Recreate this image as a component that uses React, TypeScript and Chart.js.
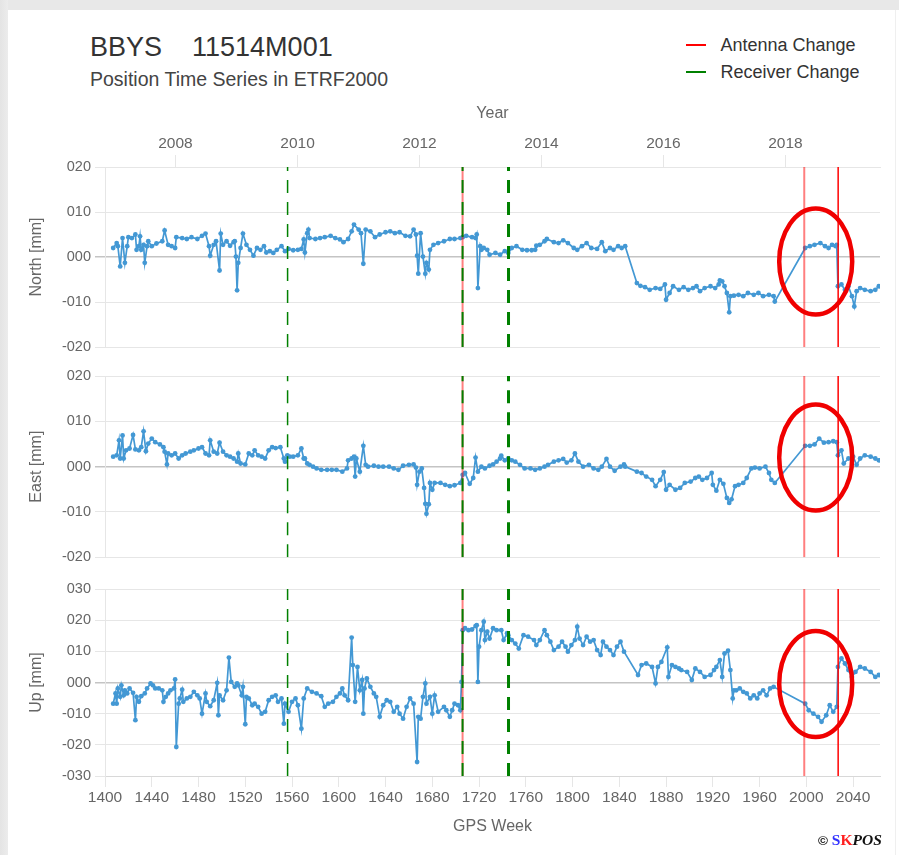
import React, { useEffect, useRef } from 'react';
import { Chart, registerables } from 'chart.js';

Chart.register(...registerables);

// ---------- data ----------
const weekMin = 1400;
const weekMax = 2063;
const gpsWeekTicks = [1400, 1440, 1480, 1520, 1560, 1600, 1640, 1680, 1720, 1760, 1800, 1840, 1880, 1920, 1960, 2000, 2040];
const yearLabels = ['2008', '2010', '2012', '2014', '2016', '2018'];
const yearWeeks = [1460.3, 1564.7, 1669.0, 1773.4, 1877.7, 1982.1];

const antennaWeeks = [1705.9, 1998.2, 2027.2];
const receiverWeeks = [1556.2, 1705.9, 1745.2];

const northTicks = [-20, -10, 0, 10, 20];
const eastTicks = [-20, -10, 0, 10, 20];
const upTicks = [-30, -20, -10, 0, 10, 20, 30];

const highlightWeek = 2008;
const northHighlight = -1.0;
const eastHighlight = 2.0;
const upHighlight = -0.5;

const northWeeks = [
  1407, 1410, 1411, 1413, 1415, 1417, 1419, 1420, 1423, 1426,
  1427, 1429, 1430, 1431, 1433, 1434, 1436, 1437, 1440, 1444,
  1449, 1451, 1454, 1457, 1460, 1461, 1466, 1470, 1474, 1479,
  1483, 1486, 1489, 1490, 1493, 1495, 1498, 1499, 1501, 1504,
  1507, 1510, 1511, 1512, 1513, 1514, 1516, 1518, 1521, 1524,
  1527, 1530, 1533, 1536, 1538, 1541, 1544, 1547, 1551, 1554,
  1557, 1561, 1565, 1568, 1570, 1571, 1573, 1574, 1575, 1580,
  1584, 1588, 1593, 1597, 1601, 1604, 1608, 1611, 1613, 1617,
  1619, 1621, 1623, 1627, 1631, 1635, 1640, 1644, 1648, 1652,
  1657, 1661, 1664, 1666, 1667, 1668, 1670, 1672, 1674, 1675,
  1677, 1678, 1681, 1685, 1690, 1695,
  1699, 1704, 1706, 1709, 1714, 1717, 1718, 1719, 1721, 1722,
  1724, 1727, 1729, 1734, 1738, 1742, 1745, 1748, 1752, 1757,
  1761, 1765, 1768, 1769, 1772, 1776, 1778, 1784, 1788, 1792,
  1796, 1801, 1804, 1808, 1812, 1816, 1821, 1825, 1828, 1832,
  1835, 1839, 1842, 1845, 1855, 1858, 1862, 1866, 1871, 1875,
  1879, 1880, 1883, 1886, 1891, 1895, 1899, 1903, 1906, 1909,
  1913, 1918, 1922, 1925, 1926, 1928, 1930, 1932, 1934, 1935,
  1938, 1942, 1946, 1950, 1955, 1959, 1963, 1968, 1972, 1973,
  1999, 2003, 2007, 2012, 2016, 2019, 2022, 2025, 2026, 2027,
  2030, 2033, 2036, 2039, 2041, 2043, 2046, 2050, 2055, 2059, 2062,
];
const northValues = [
  2.0, 3.1, 2.4, -2.1, 4.2, -1.3, 2.4, 4.4, 4.2, 5.0,
  1.6, 2.4, 4.6, 1.6, 2.7, -1.3, 2.4, 3.5, 2.4, 3.0,
  3.5, 5.9, 2.7, 2.4, 2.0, 4.4, 4.2, 4.0, 4.4, 4.0,
  4.7, 5.2, 2.4, 0.3, 2.7, 3.5, -3.0, 5.2, 2.7, 3.5,
  2.5, 3.3, 3.5, 0.1, -7.4, -1.3, 2.0, 5.2, 2.7, 1.6,
  0.3, 2.0, 1.6, 2.4, 1.0, 1.3, 0.9, 1.6, 2.4, 1.3,
  1.8, 1.5, 1.6, 1.8, 3.9, 1.0, 5.3, 6.1, 4.2, 4.0,
  4.2, 4.4, 4.7, 4.2, 3.9, 3.3, 4.0, 5.7, 7.2, 6.1,
  5.3, -1.5, 6.1, 5.7, 4.4, 5.0, 5.5, 5.7, 5.3, 5.5,
  4.7, 4.6, 6.1, 5.0, 0.3, -3.7, 5.3, 0.1, -3.7, -1.3,
  -2.8, 1.6, 2.7, 3.1, 3.5, 4.0,
  4.0, 4.2, 4.4, 4.7, 4.4, 4.2, 5.0, -6.9, 2.4, 1.6,
  2.0, 1.6, 0.5, 0.9, 0.5, 1.3, 0.9, 2.0, 2.4, 1.6,
  1.5, 1.5, 1.6, 2.5, 2.7, 3.5, 4.0, 3.3, 3.1, 3.7,
  3.1, 2.0, 1.6, 2.4, 3.1, 2.0, 1.8, 3.3, 1.3, 2.0,
  1.6, 2.4, 2.0, 2.4, -5.8, -6.4, -6.7, -7.3, -6.9, -7.1,
  -6.1, -9.5, -8.0, -6.5, -7.3, -6.7, -7.3, -6.9, -6.5, -7.6,
  -6.9, -6.5, -6.9, -6.1, -5.2, -5.4, -6.5, -8.0, -12.3, -8.7,
  -8.6, -8.4, -8.7, -8.0, -8.4, -8.0, -8.7, -8.4, -8.7, -9.9,
  2.0, 2.4, 2.7, 3.1, 2.4, 2.0, 2.7, 2.4, 2.7, -6.5,
  -6.1, -7.3, -6.5, -8.7, -11.0, -7.6, -6.9, -7.3, -7.6, -7.3, -6.5,
];

const eastWeeks = [
  1407, 1410, 1412, 1413, 1415, 1416, 1418, 1421, 1424, 1426,
  1429, 1431, 1433, 1435, 1437, 1440, 1443, 1447, 1450, 1451,
  1453, 1454, 1457, 1460, 1463, 1466, 1469, 1473, 1476, 1480,
  1483, 1486, 1489, 1490, 1493, 1496, 1498, 1501, 1504, 1507,
  1510, 1513, 1514, 1516, 1520, 1523, 1526, 1528, 1531, 1534,
  1537, 1540, 1543, 1546, 1550, 1553, 1554, 1556, 1558, 1561,
  1565, 1568, 1570, 1571, 1573, 1575, 1578, 1581, 1585, 1590,
  1594, 1598, 1603, 1607, 1608, 1611, 1613, 1614, 1615, 1618,
  1621, 1623, 1625, 1630, 1634, 1638, 1643, 1647, 1651, 1655,
  1660, 1664, 1666, 1667, 1669, 1671, 1673, 1674, 1675, 1677,
  1678, 1680, 1682, 1687, 1691, 1695,
  1699, 1704, 1706, 1708, 1712, 1715, 1717, 1719, 1722, 1725,
  1729, 1732, 1735, 1738, 1739, 1742, 1745, 1748, 1751, 1755,
  1759, 1764, 1768, 1772, 1776, 1779, 1784, 1788, 1792, 1795,
  1799, 1802, 1805, 1809, 1814, 1818, 1822, 1825, 1829, 1832,
  1836, 1841, 1844, 1845, 1855, 1859, 1863, 1868, 1871, 1875,
  1878, 1880, 1883, 1888, 1892, 1896, 1901, 1905, 1908, 1911,
  1915, 1919, 1920, 1923, 1926, 1929, 1932, 1934, 1936, 1939,
  1942, 1946, 1949, 1953, 1956, 1960, 1965, 1968, 1970, 1973,
  1999, 2003, 2007, 2011, 2015, 2019, 2023, 2026, 2027, 2030,
  2032, 2036, 2040, 2043, 2046, 2050, 2055, 2059, 2062,
];
const eastValues = [
  2.2, 2.5, 5.8, 1.8, 6.9, 1.8, 3.6, 4.0, 7.0, 3.8,
  3.6, 4.3, 7.8, 3.4, 5.1, 6.2, 5.4, 4.9, 4.3, 3.3,
  0.5, 2.9, 2.5, 2.9, 1.8, 2.5, 2.9, 3.3, 3.6, 4.0,
  4.3, 2.9, 2.5, 5.8, 3.3, 2.9, 5.3, 3.3, 2.5, 2.2,
  1.8, 1.1, 2.9, 0.7, 0.5, 2.9, 2.5, 3.6, 2.5, 2.2,
  1.8, 3.6, 4.3, 4.1, 4.3, 1.8, 1.1, 2.5, 2.2, 2.2,
  2.5, 4.0, 1.8, 1.8, 0.7, 0.4, 0.0, -0.4, -0.7, -0.7,
  -0.7, -0.7, -1.1, -0.4, 1.4, 1.8, 2.2, -2.2, 1.8, -1.1,
  4.6, 0.4, 0.0, 0.2, 0.0, 0.0, 0.0, -0.4, -0.7, 0.2,
  0.4, 0.5, -0.2, -4.0, -1.1, -0.4, -4.7, -8.2, -10.4, -8.3,
  -3.6, -5.1, -3.6, -3.6, -4.0, -4.3,
  -4.1, -3.6, -1.8, -1.4, -3.8, -2.5, 2.0, -1.1, 0.0, -0.4,
  0.2, 0.5, 1.1, 1.8, 2.4, 1.4, 1.8, 1.4, 1.1, 0.4,
  -0.4, -0.4, -0.7, -0.4, 0.0, 0.4, 1.1, 1.4, 1.7, 0.9,
  1.4, 2.9, 1.1, 0.0, 0.4, -0.4, -0.7, 0.0, 1.7, 0.0,
  -0.9, 0.0, 0.5, 0.0, -1.1, -1.4, -2.2, -2.9, -4.3, -2.9,
  -1.2, -5.1, -4.0, -5.1, -4.7, -3.6, -3.3, -2.5, -2.2, -2.9,
  -2.5, -1.4, -4.0, -5.3, -2.9, -3.8, -6.9, -8.0, -7.2, -4.3,
  -4.0, -3.6, -2.5, -0.4, -0.2, -0.4, 0.0, -1.4, -2.9, -3.6,
  4.6, 4.6, 4.9, 6.2, 5.3, 5.4, 5.6, 5.4, 2.5, 3.6,
  0.7, 1.8, 2.2, 0.4, 1.8, 2.5, 2.2, 1.8, 1.4,
];

const upWeeks = [
  1407, 1409, 1410, 1411, 1413, 1414, 1416, 1417, 1419, 1421,
  1424, 1426, 1427, 1429, 1431, 1434, 1436, 1439, 1441, 1443,
  1446, 1449, 1450, 1452, 1454, 1456, 1459, 1460, 1461, 1463,
  1464, 1466, 1467, 1470, 1473, 1476, 1479, 1481, 1483, 1486,
  1487, 1490, 1493, 1496, 1497, 1498, 1501, 1504, 1506, 1508,
  1511, 1513, 1514, 1517, 1518, 1520, 1521, 1523, 1526, 1528,
  1531, 1534, 1537, 1540, 1543, 1546, 1548, 1551, 1553, 1554,
  1557, 1560, 1563, 1565, 1568, 1570, 1573, 1577, 1581, 1585,
  1588, 1591, 1595, 1598, 1601, 1603, 1605, 1608, 1611, 1612,
  1614, 1616, 1618, 1620, 1621, 1622, 1624, 1627, 1630, 1632,
  1635, 1638, 1641, 1644, 1647, 1650, 1652, 1655, 1658, 1661,
  1664, 1667, 1668, 1670, 1672, 1674, 1675, 1678, 1680, 1682,
  1685, 1690, 1692, 1695, 1697, 1699, 1702, 1704, 1705,
  1706, 1708, 1711, 1714, 1717, 1718, 1719, 1720, 1722, 1724,
  1725, 1727, 1729, 1732, 1735, 1739, 1741, 1744, 1745, 1748,
  1751, 1754, 1758, 1762, 1767, 1769, 1772, 1776, 1778, 1781,
  1784, 1788, 1791, 1794, 1796, 1799, 1802, 1804, 1806, 1809,
  1812, 1815, 1818, 1821, 1824, 1826, 1829, 1832, 1835, 1838,
  1841, 1844, 1856, 1859, 1863, 1868, 1871, 1873, 1876, 1881,
  1882, 1885, 1888, 1891, 1893, 1898, 1902, 1905, 1909, 1913,
  1918, 1921, 1923, 1926, 1928, 1930, 1933, 1935, 1937, 1938,
  1940, 1943, 1946, 1949, 1952, 1955, 1958, 1960, 1963, 1966,
  1969, 1972, 1999, 2002, 2006, 2010, 2013, 2017, 2020, 2023,
  2026, 2027, 2030, 2033, 2036, 2039, 2042, 2046, 2050, 2055, 2059, 2062,
];
const upValues = [
  -6.8, -3.5, -6.8, -1.9, -4.6, -0.9, -4.1, -2.5, -3.5, -1.9,
  -3.3, -12.1, -4.6, -6.2, -4.4, -3.5, -1.9, -0.3, -0.9, -1.9,
  -1.9, -2.5, -6.2, -4.6, -3.5, -2.5, -1.9, 1.0, -20.7, -6.8,
  -5.1, -2.3, -6.2, -5.1, -4.6, -3.0, -4.1, -5.1, -10.0, -3.5,
  -6.2, -7.6, -5.7, -0.1, -10.5, -4.1, -5.7, -2.5, 8.0, 0.2,
  -1.4, -0.3, -0.9, -4.1, -1.4, -13.4, -4.6, -5.1, -7.3, -6.8,
  -7.8, -10.0, -9.4, -5.7, -4.6, -4.1, -6.2, -5.1, -13.2, -6.8,
  -9.4, -6.2, -5.1, -7.3, -14.8, -5.1, -1.9, -3.0, -3.5, -4.4,
  -7.8, -6.8, -6.2, -4.6, -3.5, -1.9, -4.1, -5.7, 14.4, 5.6,
  -6.2, 5.0, -2.5, 0.8, -10.0, -1.9, 1.3, -1.4, -3.5, -4.6,
  -11.0, -7.3, -5.7, -6.2, -9.4, -7.8, -10.0, -11.6, -7.8, -5.1,
  -6.8, -25.5, -11.0, -11.6, -4.6, -0.3, -6.8, -4.6, -10.0, -4.1,
  -9.4, -7.8, -8.9, -11.0, -8.9, -6.8, -7.3, -8.9, 0.2,
  16.8, 17.4, 16.8, 17.0, 18.1, 18.4, 0.2, 11.5, 16.8, 19.5,
  13.6, 16.3, 14.1, 17.4, 16.8, 16.8, 13.6, 15.8, 15.2, 13.6,
  12.5, 10.9, 15.2, 14.7, 13.6, 12.0, 13.6, 16.8, 15.2, 13.1,
  10.4, 11.5, 13.1, 11.5, 9.9, 12.0, 13.6, 17.9, 14.1, 12.0,
  14.7, 13.1, 13.6, 10.4, 8.8, 13.1, 11.5, 10.4, 8.8, 11.5,
  13.1, 9.9, 2.4, 5.6, 6.1, 5.0, -0.3, 5.0, 6.6, 11.3,
  1.8, 5.6, 5.0, 4.5, 4.0, 3.4, 0.8, 4.5, 3.4, 1.8,
  2.4, 4.0, 5.0, 7.2, 1.8, 9.3, 10.2, 4.0, -5.1, -2.5,
  -2.5, -1.9, -3.0, -3.5, -5.1, -4.1, -5.1, -3.5, -2.5, -4.1,
  -1.9, -1.4, -6.8, -8.9, -10.0, -11.0, -12.6, -10.5, -7.3, -9.4,
  -7.8, 5.0, 7.7, 6.1, 4.0, 1.8, 3.4, 5.0, 4.5, 3.4, 1.8, 2.4,
];

// ---------- styles ----------
const FONT = "'Liberation Sans', Arial, Helvetica, sans-serif";
const SERIES_COLOR = '#4398d4';
const GRID = '#e6e6e6';
const TICK_COLOR = '#666666';
const antennaColors = ['rgba(255,0,0,0.5)', 'rgba(255,0,0,0.5)', '#ff0000'];
const antennaWidths = [2, 2, 1.5];
const receiverWidths = [1.5, 2, 3];

const fmtMm = (v: number) => (v < 0 ? '-' : '') + String(Math.abs(v)).padStart(3, '0');

const ellipsePlugin = {
  id: 'highlightEllipse',
  afterDraw(chart: any, _args: any, opts: any) {
    if (!opts || opts.y === undefined) return;
    const { ctx } = chart;
    const xs = chart.scales.x;
    const ys = chart.scales.y;
    const cx = xs.getPixelForValue(opts.x);
    const cy = ys.getPixelForValue(opts.y);
    ctx.save();
    ctx.beginPath();
    ctx.ellipse(cx, cy, opts.rx, opts.ry, 0, 0, Math.PI * 2);
    ctx.strokeStyle = opts.color;
    ctx.lineWidth = opts.width;
    ctx.stroke();
    ctx.restore();
  },
};

type PanelCfg = {
  weeks: number[];
  values: number[];
  yTicks: number[];
  yTitle: string;
  xMode: 'top' | 'bottom' | 'none';
  highlight: number;
  padding: { top: number; bottom: number };
  xAxisHeight: number;
};

function buildChart(canvas: HTMLCanvasElement, cfg: PanelCfg) {
  const yMin = cfg.yTicks[0];
  const yMax = cfg.yTicks[cfg.yTicks.length - 1];
  const datasets: any[] = [];
  receiverWeeks.forEach((w, i) => {
    datasets.push({
      type: 'line',
      data: [{ x: w, y: yMin }, { x: w, y: yMax }],
      borderColor: '#008000',
      borderWidth: receiverWidths[i],
      borderDash: [13, 9],
      pointRadius: 0,
      order: 1,
    });
  });
  antennaWeeks.forEach((w, i) => {
    datasets.push({
      type: 'line',
      data: [{ x: w, y: yMin }, { x: w, y: yMax }],
      borderColor: antennaColors[i],
      borderWidth: antennaWidths[i],
      pointRadius: 0,
      order: 2,
    });
  });
  datasets.push({
    type: 'line',
    data: cfg.weeks.map((w, i) => ({ x: w, y: cfg.values[i] })),
    borderColor: SERIES_COLOR,
    backgroundColor: SERIES_COLOR,
    pointBackgroundColor: SERIES_COLOR,
    pointBorderWidth: 0,
    pointRadius: 2.4,
    borderWidth: 1.7,
    tension: 0,
    order: 10,
  });

  const isTop = cfg.xMode === 'top';
  const xScale: any = {
    type: 'linear',
    min: weekMin,
    max: weekMax,
    display: cfg.xMode !== 'none',
    position: isTop ? 'top' : 'bottom',
    afterBuildTicks: (axis: any) => {
      axis.ticks = (isTop ? yearWeeks : gpsWeekTicks).map((v) => ({ value: v }));
    },
    afterFit: (axis: any) => {
      axis.height = cfg.xAxisHeight;
    },
    ticks: {
      autoSkip: false,
      maxRotation: 0,
      padding: isTop ? 1.5 : 1,
      color: TICK_COLOR,
      font: { family: FONT, size: 15.5 },
      callback: (v: any, i: number) => (isTop ? yearLabels[i] : String(v)),
    },
    grid: {
      drawOnChartArea: false,
      drawTicks: true,
      tickLength: isTop ? 12 : 11,
      color: GRID,
    },
    border: { display: true, color: isTop ? GRID : '#d8d8d8' },
    title: {
      display: true,
      text: isTop ? 'Year' : 'GPS Week',
      color: TICK_COLOR,
      font: { family: FONT, size: 16 },
      padding: isTop ? { top: 6.5, bottom: 0 } : { top: 0, bottom: 2 },
    },
  };

  return new Chart(canvas, {
    type: 'line',
    data: { datasets },
    plugins: [ellipsePlugin],
    options: {
      responsive: false,
      animation: false,
      devicePixelRatio: 1,
      layout: { padding: { left: 20, right: 19, top: cfg.padding.top, bottom: cfg.padding.bottom } },
      plugins: {
        legend: { display: false },
        tooltip: { enabled: false },
        title: { display: false },
        highlightEllipse: {
          x: highlightWeek,
          y: cfg.highlight,
          rx: 36.5,
          ry: 53,
          color: '#f00000',
          width: 4.5,
        },
      } as any,
      scales: {
        x: xScale,
        y: {
          type: 'linear',
          min: yMin,
          max: yMax,
          afterBuildTicks: (axis: any) => {
            axis.ticks = cfg.yTicks.map((v) => ({ value: v }));
          },
          afterFit: (axis: any) => {
            axis.width = 85;
          },
          ticks: {
            padding: 4,
            color: TICK_COLOR,
            font: { family: FONT, size: 14.5 },
            callback: (v: any) => fmtMm(Number(v)),
          },
          grid: {
            drawTicks: true,
            tickLength: 10,
            color: (c: any) => (c.tick && c.tick.value === 0 ? '#c4c4c4' : GRID),
            lineWidth: (c: any) => (c.tick && c.tick.value === 0 ? 1.5 : 1),
          },
          border: { display: true, color: GRID },
          title: {
            display: true,
            text: cfg.yTitle,
            color: TICK_COLOR,
            font: { family: FONT, size: 16 },
            padding: { top: 7, bottom: 0 },
          },
        },
      },
    } as any,
  });
}

export default function App() {
  const northRef = useRef<HTMLCanvasElement>(null);
  const eastRef = useRef<HTMLCanvasElement>(null);
  const upRef = useRef<HTMLCanvasElement>(null);

  useEffect(() => {
    const charts: Chart[] = [];
    if (northRef.current) {
      charts.push(
        buildChart(northRef.current, {
          weeks: northWeeks,
          values: northValues,
          yTicks: northTicks,
          yTitle: 'North [mm]',
          xMode: 'top',
          highlight: northHighlight,
          padding: { top: 97, bottom: 13 },
          xAxisHeight: 70,
        })
      );
    }
    if (eastRef.current) {
      charts.push(
        buildChart(eastRef.current, {
          weeks: eastWeeks,
          values: eastValues,
          yTicks: eastTicks,
          yTitle: 'East [mm]',
          xMode: 'none',
          highlight: eastHighlight,
          padding: { top: 16, bottom: 10 },
          xAxisHeight: 0,
        })
      );
    }
    if (upRef.current) {
      charts.push(
        buildChart(upRef.current, {
          weeks: upWeeks,
          values: upValues,
          yTicks: upTicks,
          yTitle: 'Up [mm]',
          xMode: 'bottom',
          highlight: upHighlight,
          padding: { top: 19, bottom: 17 },
          xAxisHeight: 62,
        })
      );
    }
    return () => charts.forEach((c) => c.destroy());
  }, []);

  const abs: React.CSSProperties = { position: 'absolute', margin: 0, whiteSpace: 'pre', lineHeight: 1 };

  return (
    <div
      style={{
        position: 'absolute',
        left: 0,
        top: 0,
        width: 899,
        height: 855,
        overflow: 'hidden',
        background: '#ffffff',
        fontFamily: FONT,
      }}
    >
      <div style={{ position: 'absolute', left: 0, top: 0, width: 899, height: 10, background: '#e8e8e8' }} />
      <div style={{ position: 'absolute', left: 0, top: 0, width: 8, height: 855, background: 'linear-gradient(to right, #e4e4e4, #ececec)' }} />
      <div style={{ position: 'absolute', left: 895, top: 10, width: 1, height: 845, background: '#efefef' }} />

      <div style={{ ...abs, left: 90, top: 34, fontSize: 27, color: '#333333' }}>BBYS    11514M001</div>
      <div style={{ ...abs, left: 90, top: 69.5, fontSize: 19.5, color: '#444444' }}>Position Time Series in ETRF2000</div>

      <div style={{ position: 'absolute', left: 686, top: 43.5, width: 20, height: 2, background: '#ff0000' }} />
      <div style={{ ...abs, left: 720.5, top: 35.5, fontSize: 18, color: '#333333' }}>Antenna Change</div>
      <div style={{ position: 'absolute', left: 686, top: 71, width: 20, height: 2, background: '#008000' }} />
      <div style={{ ...abs, left: 720.5, top: 63, fontSize: 18, color: '#333333' }}>Receiver Change</div>

      <canvas ref={northRef} width={899} height={360} style={{ position: 'absolute', left: 0, top: 0, width: 899, height: 360 }} />
      <canvas ref={eastRef} width={899} height={210} style={{ position: 'absolute', left: 0, top: 360, width: 899, height: 210 }} />
      <canvas ref={upRef} width={899} height={285} style={{ position: 'absolute', left: 0, top: 570, width: 899, height: 285 }} />

      <div style={{ ...abs, left: 818, top: 831.5, fontSize: 15.5, color: '#111111', fontWeight: 'bold' }}>
        <span style={{ fontFamily: FONT, fontSize: 13.5 }}>©</span>
        <span style={{ fontFamily: "'Liberation Serif', 'Times New Roman', serif" }}>
          {' '}
          <span style={{ color: '#3333ff' }}>S</span>
          <span style={{ color: '#ff2020' }}>K</span>
          <span style={{ fontStyle: 'italic' }}>POS</span>
        </span>
      </div>
    </div>
  );
}
